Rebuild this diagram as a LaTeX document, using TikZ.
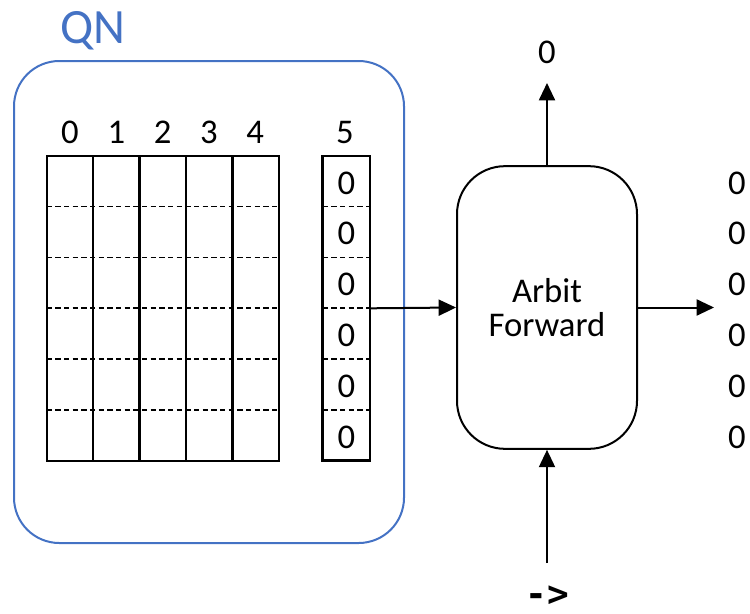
\documentclass[tikz,border=0pt]{standalone}
\usepackage{fontspec}
\setmainfont{Carlito}
\newfontfamily\codefont{DejaVu Sans Mono}
\usetikzlibrary{positioning,arrows.meta}
\definecolor{qnblue}{RGB}{68,114,196}

\begin{document}
\begin{tikzpicture}[x=0.75pt,y=-0.75pt,
    every node/.style={font=\fontsize{26}{25}\selectfont, inner sep=0pt},
    flow/.style={-{Triangle[length=13pt,width=12pt]}, line width=1.5pt},
    cell/.style={line width=1.8pt},
    sep/.style={line width=1.1pt, dash pattern=on 4pt off 2.5pt}]
    \useasboundingbox (0,0) rectangle (750,614);

    % QN container
    \node[draw=qnblue, line width=1.5pt, rounded corners=34pt,
          minimum width=292.5pt, minimum height=361.5pt] (qn) at (209,302) {};
    \node[text=qnblue, font=\fontsize{37}{37}\selectfont] (qnlabel) at (93,31) {QN};

    % table with columns 0..4
    \draw[cell] (46.7,155.7) rectangle (279,460.7);
    \foreach \i in {1,...,4}
        \draw[cell] (46.7+46.46*\i,155.7) -- (46.7+46.46*\i,460.7);
    \foreach \j in {1,...,5}
        \draw[sep] (46.7,155.7+50.83*\j) -- (279,155.7+50.83*\j);
    \foreach \i in {0,...,4}
        \node (col\i) at (70+46.3*\i,132.5) {\i};

    % column 5
    \node[draw, line width=1.8pt, minimum width=35.5pt, minimum height=228.5pt] (vec) at (346.3,308.3) {};
    \foreach \j in {1,...,5}
        \draw[sep] (322.7,155.7+50.83*\j) -- (370,155.7+50.83*\j);
    \foreach \j in {0,...,5}
        \node (v\j) at (346.3,183+50.83*\j) {0};
    \node (col5) at (345,132.5) {5};

    % forward block
    \node[draw, line width=1.5pt, rounded corners=36pt, minimum width=135pt,
          minimum height=212pt, align=center] (arbit) at (547,307.5) {Arbit\\Forward};
    \draw[flow] (vec.east) -- (arbit.west);

    % output column
    \coordinate (outtip) at (714,307.5);
    \draw[flow] (arbit.east) -- (outtip);
    \foreach \j in {0,...,5}
        \node (out\j) at (737,183+50.83*\j) {0};

    % top output
    \coordinate (uptip) at (547,83);
    \draw[flow] (arbit.north) -- (uptip);
    \node (upval) at (547,52) {0};

    % bottom input
    \coordinate (inbase) at (547,563);
    \draw[flow] (inbase) -- (arbit.south);
    \node[font=\codefont\bfseries\fontsize{27}{27}\selectfont] (cmd) at (547,596) {->};
\end{tikzpicture}
\end{document}
